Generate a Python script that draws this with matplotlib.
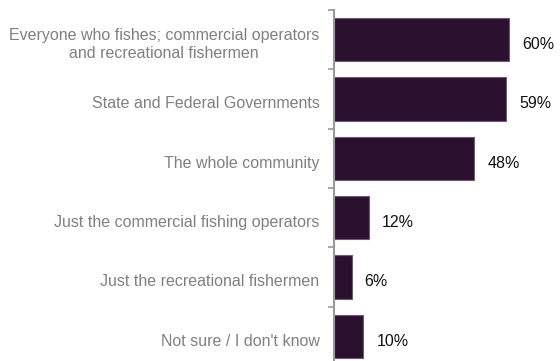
import matplotlib.pyplot as plt
import numpy as np

# Antworten und Anteile in Prozent
categories = [
    "Everyone who fishes; commercial operators\nand recreational fishermen",
    "State and Federal Governments",
    "The whole community",
    "Just the commercial fishing operators",
    "Just the recreational fishermen",
    "Not sure / I don't know",
]
values = [60, 59, 48, 12, 6, 10]
value_labels = ["60%", "59%", "48%", "12%", "6%", "10%"]

plt.rcParams['font.family'] = ['Liberation Sans', 'DejaVu Sans']

fig = plt.figure(figsize=(5.6, 3.61), dpi=100)
ax = fig.add_axes([334 / 560, -5 / 361, 226 / 560, 356 / 361])

y = np.arange(len(categories))
ax.barh(y, values, height=0.725, color='#2c1030', edgecolor='#6e5a72', linewidth=0.8)

ax.set_ylim(len(categories) - 0.5, -0.5)
ax.set_xlim(0, 226 / 2.92)

# Wertebeschriftung rechts neben den Balken
for yi, v, lab in zip(y, values, value_labels):
    ax.annotate(lab, (v, yi), xytext=(9.5, -3.6), textcoords='offset points',
                ha='left', va='center', fontsize=11.5, color='#111111')

# Kategorienamen links der Achse
for yi, cat in zip(y, categories):
    ax.annotate(cat, (0, yi), xytext=(-10.5, -3.4), textcoords='offset points',
                ha='right', va='center', multialignment='center',
                fontsize=11.5, color='#808080', annotation_clip=False)

ax.set_yticks(np.arange(len(categories) + 1) - 0.5)
ax.set_yticklabels([])
ax.tick_params(axis='y', direction='out', length=4, width=1.2, color='#999999')
ax.set_xticks([])

for side in ['top', 'right', 'bottom']:
    ax.spines[side].set_visible(False)
ax.spines['left'].set_color('#999999')
ax.spines['left'].set_linewidth(1.5)

plt.savefig('out.png', dpi=100)
